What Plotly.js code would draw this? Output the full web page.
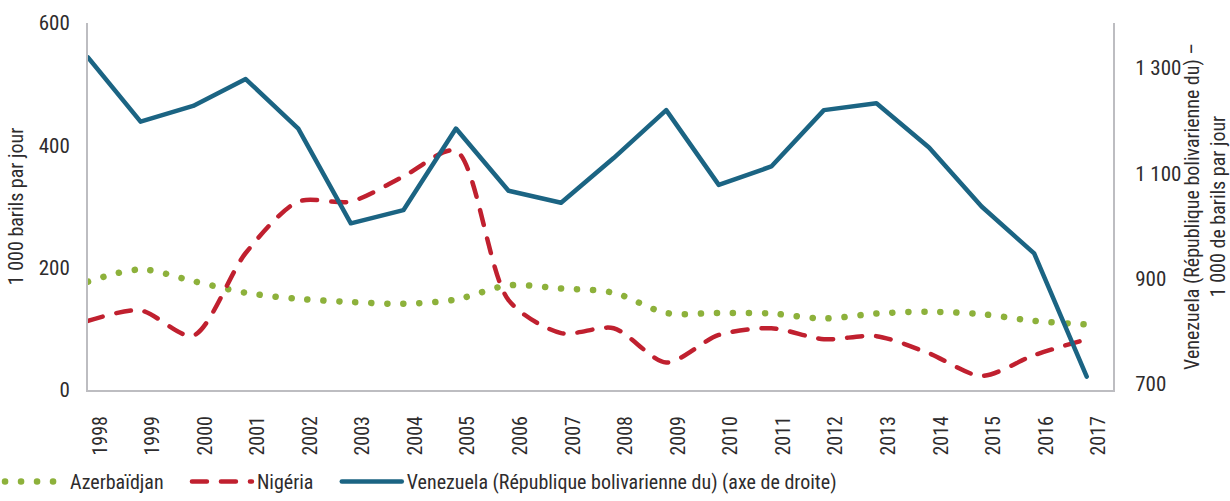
<!DOCTYPE html>
<html>
<head>
<meta charset="utf-8">
<script src="https://cdn.plot.ly/plotly-3.0.1.min.js"></script>
<style>
  html, body { margin: 0; padding: 0; background: #fff; }
  #chart { width: 1230px; height: 501px; }
  .scatterlayer path.js-line, .legend path.js-line { stroke-linecap: round; stroke-linejoin: round; }
</style>
</head>
<body>
<div id="chart"></div>
<script>
const years = [1998,1999,2000,2001,2002,2003,2004,2005,2006,2007,2008,2009,2010,2011,2012,2013,2014,2015,2016,2017];
const azerbaidjan = [177,197,178,159,149,144,141,148,171,166,159,126,126,125,117,125,128,124,113,107];
const nigeria = [113,130,89,224,308,308,349,391,147,93,101,45,90,101,83,88,60,23,57,83];
const venezuela = [1320,1198,1228,1279,1185,1005,1030,1185,1067,1044,1129,1220,1078,1113,1220,1233,1149,1037,948,714];

const leftTicks = [0,200,400,600];
const rightTicks = [700,900,1100,1300];
const rightTickText = ['700','900','1 100','1 300'];

const seriesNames = ['Azerbaïdjan\u00a0\u00a0\u00a0\u00a0','Nigéria\u00a0\u00a0\u00a0\u00a0','Venezuela (République bolivarienne du) (axe de droite)'];
const leftTitle = '1 000 barils par jour';
const rightTitle = 'Venezuela (République bolivarienne du) –<br>1 000 de barils par jour';

const FONT = '"Liberation Sans Narrow", "Arial Narrow", "Roboto Condensed", "Liberation Sans", sans-serif';
const TXT = '#2e2c2d';
const AX = '#bdbdc1';

const traces = [
  { x: years, y: azerbaidjan, name: seriesNames[0], type: 'scatter', mode: 'lines',
    line: { color: '#8db13b', width: 6.5, dash: '0.1px,15.9px', shape: 'spline', smoothing: 0.9 } },
  { x: years, y: nigeria, name: seriesNames[1], type: 'scatter', mode: 'lines',
    line: { color: '#c0202f', width: 4.5, dash: '15px,14px', shape: 'spline', smoothing: 0.8 } },
  { x: years, y: venezuela, name: seriesNames[2], type: 'scatter', mode: 'lines', yaxis: 'y2',
    line: { color: '#1b6483', width: 4.5 } }
];

const layout = {
  width: 1230, height: 501,
  margin: { l: 88, r: 117, t: 23, b: 111 },
  paper_bgcolor: '#fff', plot_bgcolor: '#fff',
  font: { family: FONT, size: 20, color: TXT },
  showlegend: true,
  legend: { orientation: 'h', xref: 'container', x: 0.0, xanchor: 'left',
            yref: 'container', y: -0.01, yanchor: 'bottom', bgcolor: 'rgba(0,0,0,0)',
            font: { family: FONT, size: 20, color: TXT }, itemwidth: 60, tracegroupgap: 0 },
  xaxis: {
    range: [1998, 2017.5], tickvals: years, ticktext: years.map(String), tickangle: -90,
    showgrid: false, zeroline: false, showline: true, linecolor: AX, linewidth: 2,
    ticks: '', ticklabelshift: 12, ticklabelstandoff: 16, automargin: false,
    tickfont: { family: FONT, size: 20, color: TXT }
  },
  yaxis: {
    range: [0, 600], tickvals: leftTicks, ticktext: leftTicks.map(String),
    showgrid: false, zeroline: false, showline: true, linecolor: AX, linewidth: 2,
    ticks: '', ticklabelstandoff: 12, automargin: false,
    tickfont: { family: FONT, size: 21, color: TXT },
    title: { text: leftTitle, font: { family: FONT, size: 20, color: TXT }, standoff: 10 }
  },
  yaxis2: {
    overlaying: 'y', side: 'right',
    range: [688.6, 1385.4], tickvals: rightTicks, ticktext: rightTickText,
    showgrid: false, zeroline: false, showline: true, linecolor: AX, linewidth: 2,
    ticks: '', ticklabelstandoff: 16, automargin: false,
    tickfont: { family: FONT, size: 21, color: TXT },
    title: { text: rightTitle, font: { family: FONT, size: 20, color: TXT }, standoff: 20 }
  }
};

Plotly.newPlot('chart', traces, layout, { displayModeBar: false, staticPlot: true });
</script>
</body>
</html>
